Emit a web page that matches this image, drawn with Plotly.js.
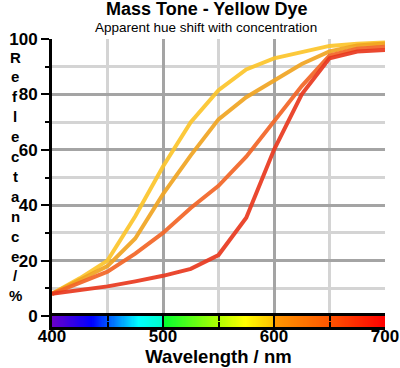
<!DOCTYPE html>
<html>
<head>
<meta charset="utf-8">
<script src="https://cdn.plot.ly/plotly-3.0.1.min.js"></script>
<style>html,body{margin:0;padding:0;background:#fff}#chart{width:400px;height:368px}</style>
</head>
<body>
<div id="chart"></div>
<script>
// Wavelength samples (nm)
const wavelengths = [400, 425, 450, 475, 500, 525, 550, 575, 600, 625, 650, 675, 700];
// Reflectance (%) for four concentrations (light -> heavy)
const reflLow     = [8, 13.6, 20, 36, 54, 70, 81.5, 89, 93, 95.3, 97.5, 98.3, 98.7];
const reflMedLow  = [8, 12.8, 18, 28, 44, 58, 71, 79, 85, 91, 95.5, 97.7, 98.4];
const reflMedHigh = [8, 12, 16, 22.5, 30, 39, 47, 57.5, 70, 83, 94, 96.5, 97.2];
const reflHigh    = [8, 9.4, 10.7, 12.5, 14.5, 17, 22, 35.5, 60, 80, 93, 95.5, 96];
const seriesNames = ["Low", "Medium-low", "Medium-high", "High"];
const seriesColors = ["#fcc42a", "#f0a422", "#f26526", "#e8381e"];

// Visible spectrum strip colour stops
const spectrumStops = [0, 0.12, 0.26, 0.332, 0.334, 0.5, 0.58, 0.665, 0.667, 0.833, 1];
const spectrumColors = ["#6a00c8", "#0000ff", "#00ffff", "#00ffcc", "#00ff30", "#b0ff00", "#ffff00", "#ffc000", "#ff9900", "#ff5500", "#ff0000"];
const spectrumRange = [400, 700];

const xTicks = [400, 500, 600, 700];
const yTicks = [0, 20, 40, 60, 80, 100];
const yTitle = "Reflectance/%";

const stripX = [];
for (let w = spectrumRange[0]; w <= spectrumRange[1]; w++) stripX.push(w);

const font = "Liberation Sans, Arial, Helvetica, sans-serif";
const series = [reflLow, reflMedLow, reflMedHigh, reflHigh];
const traces = series.map((ys, i) => ({
  type: "scatter", mode: "lines", x: wavelengths, y: ys, name: seriesNames[i],
  xaxis: "x", yaxis: "y",
  line: {color: seriesColors[i], width: 4}, opacity: 0.92, hoverinfo: "skip"
}));
traces.unshift({
  type: "heatmap", x: stripX, y: [0.5], z: [stripX],
  xaxis: "x", yaxis: "y2",
  colorscale: spectrumStops.map((s, i) => [s, spectrumColors[i]]),
  zmin: spectrumRange[0], zmax: spectrumRange[1], showscale: false, hoverinfo: "skip"
});

// stacked vertical axis title, one letter per line (paper y = (327 - py) / 288)
const plotH = 288;
const letterAnns = yTitle.split("").map((ch, i) => ({
  text: "<b>" + ch + "</b>", xref: "paper", yref: "paper",
  x: -0.111, y: (327 - (57 + i * 19.9)) / plotH,
  xanchor: "center", yanchor: "middle", showarrow: false,
  font: {size: 15, family: font}
}));

const layout = {
  width: 400, height: 368,
  margin: {l: 52, r: 15, t: 39, b: 41, pad: 0},
  paper_bgcolor: "#fff", plot_bgcolor: "#fff",
  showlegend: false,
  font: {family: font, color: "#000"},
  xaxis: {
    anchor: "y2", range: spectrumRange, tickvals: xTicks,
    ticks: "inside", ticklen: 10, tickwidth: 2, tickcolor: "#000",
    showline: true, linecolor: "#000", linewidth: 3, mirror: "ticks",
    showgrid: true, gridcolor: "#a4a4a4", gridwidth: 3, zeroline: false,
    minor: {dtick: 50, tick0: 400, ticks: "inside", ticklen: 5, tickwidth: 2, tickcolor: "#000",
            showgrid: true, gridcolor: "#d4d4d4", gridwidth: 3},
    tickfont: {size: 17, weight: "bold", family: font},
    ticklabelstandoff: -8,
    title: {text: "<b>Wavelength / nm</b>", font: {size: 18.5, family: font}, standoff: 4}
  },
  yaxis: {
    anchor: "x", domain: [0.0382, 1], range: [0, 100], tickvals: yTicks,
    ticks: "outside", ticklen: 8, tickwidth: 2, tickcolor: "#000",
    showline: true, linecolor: "#000", linewidth: 3,
    showgrid: true, gridcolor: "#a4a4a4", gridwidth: 3, zeroline: false,
    minor: {dtick: 10, ticks: "outside", ticklen: 4, tickwidth: 2, tickcolor: "#000",
            showgrid: true, gridcolor: "#d4d4d4", gridwidth: 3},
    tickfont: {size: 17, weight: "bold", family: font}
  },
  yaxis2: {
    anchor: "x", domain: [0, 0.0382], range: [0, 1],
    showticklabels: false, ticks: "", showgrid: false, zeroline: false,
    showline: true, linecolor: "#000", linewidth: 3
  },
  annotations: [
    {text: "<b>Mass Tone - Yellow Dye</b>", xref: "paper", yref: "paper", x: 0.4625, y: 1,
     xanchor: "center", yanchor: "middle", yshift: 30, showarrow: false,
     font: {size: 18, family: font}},
    {text: "Apparent hue shift with concentration", xref: "paper", yref: "paper", x: 0.4625, y: 1,
     xanchor: "center", yanchor: "middle", yshift: 12, showarrow: false,
     font: {size: 13.5, family: font}}
  ].concat(letterAnns)
};

Plotly.newPlot("chart", traces, layout, {staticPlot: true, displayModeBar: false});
</script>
</body>
</html>
